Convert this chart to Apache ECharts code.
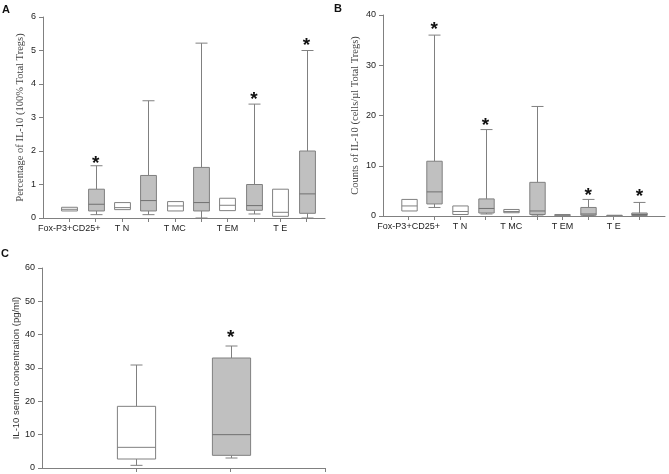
<!DOCTYPE html>
<html><head><meta charset="utf-8">
<script src="https://cdn.jsdelivr.net/npm/echarts@6/dist/echarts.min.js"></script>
<style>html,body{margin:0;padding:0;background:#fff}#c{width:669px;height:474px}</style>
</head><body><div id="c"></div>
<script>
// ---------- data ----------
const categories = ['Fox-P3+CD25+', 'T N', 'T MC', 'T EM', 'T E'];
// Panel A: percentage of IL-10 (10 boxes; odd = white/control, even = grey)
const aMin    = [0.21, 0.10, 0.25, 0.10, 0.21, 0.00, 0.22, 0.12, 0.05, 0.00];
const aQ1     = [0.21, 0.21, 0.25, 0.21, 0.21, 0.21, 0.22, 0.23, 0.05, 0.14];
const aMedian = [0.26, 0.41, 0.31, 0.52, 0.36, 0.46, 0.38, 0.37, 0.17, 0.72];
const aQ3     = [0.32, 0.86, 0.46, 1.27, 0.49, 1.51, 0.59, 1.00, 0.86, 2.00];
const aMax    = [0.32, 1.56, 0.46, 3.50, 0.49, 5.22, 0.59, 3.40, 0.86, 5.00];
const aStarPos = [2, 8, 10];
const aStarVal = [1.74, 3.66, 5.25];
// Panel B: counts of IL-10 (cells/µl)
const bMin    = [1.0, 1.7, 0.3, 0.4, 0.65, 0.0, 0.05, 0.10, 0.05, 0.05];
const bQ1     = [1.0, 2.4, 0.3, 0.6, 0.65, 0.3, 0.05, 0.15, 0.05, 0.10];
const bMedian = [2.0, 4.8, 0.9, 1.5, 0.90, 1.0, 0.15, 0.40, 0.10, 0.30];
const bQ3     = [3.3, 10.9, 2.0, 3.4, 1.30, 6.7, 0.30, 1.70, 0.15, 0.60];
const bMax    = [3.3, 36.0, 2.0, 17.2, 1.30, 21.8, 0.30, 3.30, 0.15, 2.70];
const bStarPos = [2, 4, 8, 10];
const bStarVal = [37.9, 18.8, 4.8, 4.6];
// Panel C: IL-10 serum concentration (pg/ml)
const cMin    = [0.8, 3.0];
const cQ1     = [2.7, 3.8];
const cMedian = [6.2, 10.0];
const cQ3     = [18.5, 33.0];
const cMax    = [30.9, 36.6];
const cStarPos = [2];
const cStarVal = [40.2];
const aTicks = [0, 1, 2, 3, 4, 5, 6];
const bTicks = [0, 10, 20, 30, 40];
const cTicks = [0, 10, 20, 30, 40, 50, 60];

// ---------- build ----------
const GREY = '#c0c0c0';
const EDGE = '#808080';
function boxData(mn, q1, md, q3, mx, greyFn) {
  return mn.map((v, i) => [i + 1, v, q1[i], md[i], q3[i], mx[i], greyFn(i) ? 1 : 0]);
}
function boxRender(boxW, capPx) {
  return function (params, api) {
    const x = api.value(0);
    const pMin = api.coord([x, api.value(1)]);
    const pQ1 = api.coord([x, api.value(2)]);
    const pMed = api.coord([x, api.value(3)]);
    const pQ3 = api.coord([x, api.value(4)]);
    const pMax = api.coord([x, api.value(5)]);
    const grey = api.value(6) === 1;
    const w = api.size([boxW, 0])[0];
    const cx = Math.round(pMin[0]) + 0.5;
    const ls = { stroke: EDGE, lineWidth: 1 };
    const ch = [];
    if (api.value(5) > api.value(4)) {
      ch.push({ type: 'line', shape: { x1: cx, y1: pMax[1], x2: cx, y2: pQ3[1] }, style: ls });
      ch.push({ type: 'line', shape: { x1: cx - capPx / 2, y1: pMax[1], x2: cx + capPx / 2, y2: pMax[1] }, style: ls });
    }
    if (api.value(1) < api.value(2)) {
      ch.push({ type: 'line', shape: { x1: cx, y1: pQ1[1], x2: cx, y2: pMin[1] }, style: ls });
      ch.push({ type: 'line', shape: { x1: cx - capPx / 2, y1: pMin[1], x2: cx + capPx / 2, y2: pMin[1] }, style: ls });
    }
    ch.push({ type: 'rect', shape: { x: cx - w / 2, y: pQ3[1], width: w, height: Math.max(pQ1[1] - pQ3[1], 1) },
      style: { fill: grey ? GREY : '#fff', stroke: EDGE, lineWidth: 1 } });
    ch.push({ type: 'line', shape: { x1: cx - w / 2, y1: pMed[1], x2: cx + w / 2, y2: pMed[1] }, style: { stroke: grey ? '#707070' : EDGE, lineWidth: 1 } });
    return { type: 'group', children: ch };
  };
}
function starRender(params, api) {
  const p = api.coord([api.value(0), api.value(1)]);
  return { type: 'text', style: { text: '*', x: p[0], y: p[1] + 4, textAlign: 'center', textVerticalAlign: 'middle',
    font: 'bold 19px Arial, sans-serif', fill: '#111' } };
}
function xAx(gi, max, tickVals, labelVals, labelFn) {
  return {
    type: 'value', gridIndex: gi, min: 0, max: max, interval: 1,
    axisLine: { show: true, onZero: false, lineStyle: { color: EDGE, width: 1 } },
    axisTick: { show: true, length: 4, customValues: tickVals, lineStyle: { color: EDGE } },
    axisLabel: { show: labelVals.length > 0, customValues: labelVals, margin: 6, fontSize: 9, color: '#222',
      fontFamily: 'Arial, sans-serif', formatter: labelFn },
    splitLine: { show: false }
  };
}
function yAx(gi, ticks, name, gap, family, size) {
  return {
    type: 'value', gridIndex: gi, min: ticks[0], max: ticks[ticks.length - 1], interval: ticks[1] - ticks[0],
    axisLine: { show: true, lineStyle: { color: EDGE, width: 1 } },
    axisTick: { show: true, length: 4, lineStyle: { color: EDGE } },
    axisLabel: { fontSize: 9, color: '#222', margin: 7, fontFamily: 'Arial, sans-serif' },
    splitLine: { show: false },
    name: name, nameLocation: 'middle', nameGap: gap, nameRotate: 90,
    nameTextStyle: { fontFamily: family, fontSize: size, color: '#444' }
  };
}
const catLabel = v => categories[(Math.round(v) - 1) / 2] || '';
const odd = [1, 3, 5, 7, 9];
const tens = [1, 2, 3, 4, 5, 6, 7, 8, 9, 10];
const isGrey = i => i % 2 === 1;

const chart = echarts.init(document.getElementById('c'), null, { renderer: 'canvas' });
chart.setOption({
  animation: false,
  grid: [
    { left: 43, top: 17, width: 282, height: 201 },
    { left: 383, top: 15, width: 282, height: 201 },
    { left: 42, top: 268, width: 283, height: 200 }
  ],
  xAxis: [
    xAx(0, 10.7, tens, odd, catLabel),
    xAx(1, 11, tens, odd, catLabel),
    xAx(2, 3, [1, 2, 3], [], () => '')
  ],
  yAxis: [
    yAx(0, aTicks, 'Percentage of IL-10 (100% Total Tregs)', 17, 'Times New Roman, serif', 10.5),
    yAx(1, bTicks, 'Counts of IL-10 (cells/µl Total Tregs)', 22, 'Times New Roman, serif', 10.5),
    yAx(2, cTicks, '', 21, 'Arial', 9.5)
  ],
  graphic: [
    { type: 'text', left: 2, top: 4, style: { text: 'A', font: 'bold 11px Arial, sans-serif', fill: '#111' } },
    { type: 'text', left: 334, top: 3, style: { text: 'B', font: 'bold 11px Arial, sans-serif', fill: '#111' } },
    { type: 'text', left: 1, top: 248, style: { text: 'C', font: 'bold 11px Arial, sans-serif', fill: '#111' } },
    { type: 'text', x: 16, y: 368, rotation: Math.PI / 2,
      style: { text: 'IL-10 serum concentration (pg/ml)', font: '9.5px "Liberation Sans", Arial, sans-serif',
        fill: '#333', align: 'center', verticalAlign: 'middle' } }
  ],
  series: [
    { type: 'custom', xAxisIndex: 0, yAxisIndex: 0, renderItem: boxRender(0.6, 12), data: boxData(aMin, aQ1, aMedian, aQ3, aMax, isGrey), clip: false },
    { type: 'custom', xAxisIndex: 1, yAxisIndex: 1, renderItem: boxRender(0.6, 12), data: boxData(bMin, bQ1, bMedian, bQ3, bMax, isGrey), clip: false },
    { type: 'custom', xAxisIndex: 2, yAxisIndex: 2, renderItem: boxRender(0.405, 12), data: boxData(cMin, cQ1, cMedian, cQ3, cMax, i => i === 1), clip: false },
    { type: 'custom', xAxisIndex: 0, yAxisIndex: 0, renderItem: starRender, data: aStarPos.map((p, i) => [p, aStarVal[i]]), clip: false },
    { type: 'custom', xAxisIndex: 1, yAxisIndex: 1, renderItem: starRender, data: bStarPos.map((p, i) => [p, bStarVal[i]]), clip: false },
    { type: 'custom', xAxisIndex: 2, yAxisIndex: 2, renderItem: starRender, data: cStarPos.map((p, i) => [p, cStarVal[i]]), clip: false }
  ]
});
</script></body></html>
